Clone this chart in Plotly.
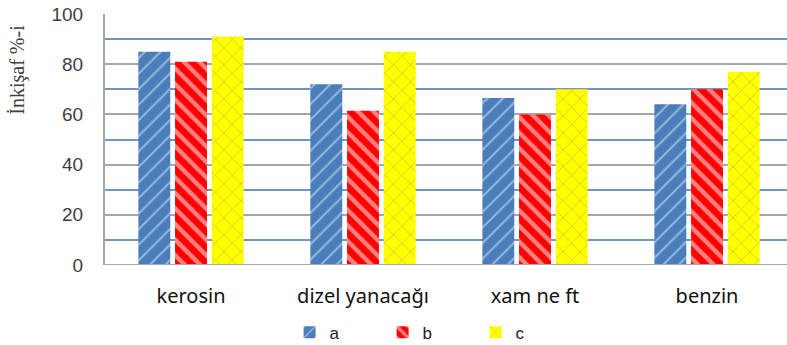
import plotly.graph_objects as go

categories = ["kerosin", "dizel yanacağı", "xam ne ft", "benzin"]
series_names = ["a", "b", "c"]
values_a = [85, 72, 66.5, 64]
values_b = [81, 61.5, 60, 70]
values_c = [91, 85, 70, 77]
y_ticks = [0, 20, 40, 60, 80, 100]

styles = {
    "a": dict(color="#4A7EBB", pattern=dict(shape="/", fgcolor="#E8EEF8", size=11, solidity=0.18, fillmode="overlay")),
    "b": dict(color="#FF0000", pattern=dict(shape="\\", fgcolor="#FFFFFF", size=11, solidity=0.4, fillmode="overlay")),
    "c": dict(color="#FFFF00", pattern=dict(shape="x", fgcolor="#8C8C6A", size=12, solidity=0.12, fillmode="overlay")),
}

fig = go.Figure()
for name, vals in zip(series_names, [values_a, values_b, values_c]):
    fig.add_trace(go.Bar(
        x=categories, y=vals, name=name,
        marker=dict(color=styles[name]["color"], pattern=styles[name]["pattern"],
                    line=dict(width=0)),
    ))

fig.update_layout(
    width=787, height=345,
    margin=dict(l=105, r=0, t=14, b=80),
    paper_bgcolor="white", plot_bgcolor="white",
    barmode="group", bargap=0.36, bargroupgap=0.13,
    showlegend=True,
    legend=dict(orientation="h", xref="container", yref="container",
                x=0.368, xanchor="left", y=0.036, yanchor="middle",
                font=dict(family="Liberation Sans, Arial, sans-serif", size=17, color="#222"),
                entrywidth=48, entrywidthmode="pixels", itemwidth=30,
                bgcolor="rgba(0,0,0,0)"),
    xaxis=dict(
        type="category", range=[-0.5, 3.465],
        showline=False, showgrid=False, ticks="",
        ticklabelstandoff=17,
        tickfont=dict(family="Noto Sans, Arial, sans-serif", size=20, color="#111"),
    ),
    yaxis=dict(
        range=[0, 100], tickvals=y_ticks,
        showline=True, linecolor="#A6A6A6", linewidth=2,
        showgrid=True, gridcolor="#A6A6A6", gridwidth=2,
        minor=dict(dtick=10, showgrid=True, gridcolor="#7395C4", gridwidth=2),
        ticks="", ticklabelstandoff=16,
        tickfont=dict(family="Liberation Sans, Arial, sans-serif", size=19, color="#404040"),
        zeroline=False,
    ),
    annotations=[dict(
        text="İnkişaf %-i", xref="paper", yref="paper",
        x=-0.128, y=0.777, xanchor="center", yanchor="middle",
        textangle=-90, showarrow=False,
        font=dict(family="Liberation Serif, Times New Roman, serif", size=20, color="#404040"),
    )],
)

# bottom axis line
fig.add_shape(type="line", xref="paper", yref="y", x0=0, x1=1, y0=0, y1=0,
              line=dict(color="#A6A6A6", width=2))

fig.write_html("out.html")
